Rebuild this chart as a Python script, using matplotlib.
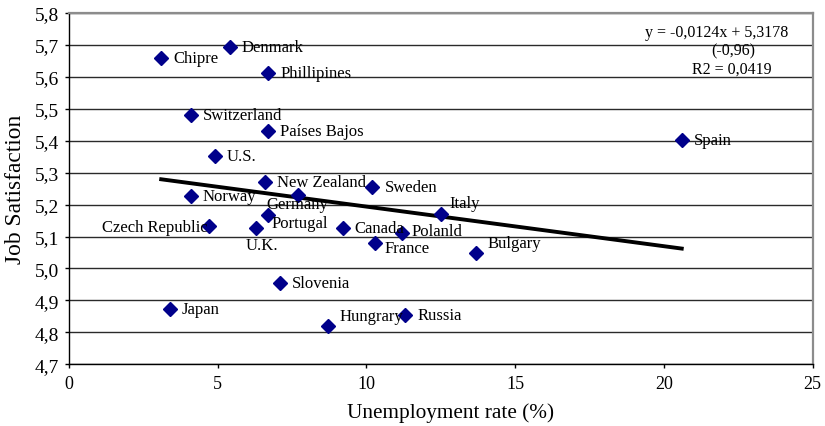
import matplotlib
matplotlib.use('Agg')
import matplotlib.pyplot as plt
from matplotlib.ticker import FuncFormatter, MultipleLocator

countries = ['Chipre', 'Denmark', 'Phillipines', 'Switzerland', 'Países Bajos', 'U.S.',
             'New Zealand', 'Sweden', 'Norway', 'Germany', 'Portugal', 'Czech Republic',
             'U.K.', 'Canada', 'Polanld', 'France', 'Italy', 'Bulgary', 'Slovenia',
             'Japan', 'Hungrary', 'Russia', 'Spain']
unemployment = [3.1, 5.4, 6.7, 4.1, 6.7, 4.9, 6.6, 10.2, 4.1, 7.7, 6.7, 4.7,
                6.3, 9.2, 11.2, 10.3, 12.5, 13.7, 7.1, 3.4, 8.7, 11.3, 20.6]
satisfaction = [5.658, 5.693, 5.612, 5.481, 5.430, 5.351, 5.272, 5.254, 5.226, 5.230,
                5.169, 5.132, 5.126, 5.126, 5.111, 5.081, 5.172, 5.047, 4.954, 4.873,
                4.820, 4.853, 5.402]
slope, intercept = -0.0124, 5.3178

# label offsets in pixels (dx, dy, ha)
offsets = {
    'Germany': (-32, -9, 'left'),
    'Portugal': (3, -8, 'left'),
    'Czech Republic': (-1, -1, 'right'),
    'U.K.': (6, -17, 'center'),
    'Polanld': (9, 2, 'left'),
    'France': (9, -5, 'left'),
    'Italy': (9, 11, 'left'),
    'Bulgary': (11, 10, 'left'),
    'Hungrary': (12, 10, 'left'),
}

plt.rcParams['font.family'] = ['Liberation Serif', 'DejaVu Serif']

fig = plt.figure(figsize=(8.25, 4.27), dpi=100)
ax = fig.add_axes([0.0836, 0.1445, 0.9014, 0.8227])

ax.set_xlim(0, 25)
ax.set_ylim(4.7, 5.8)
ax.yaxis.set_major_locator(MultipleLocator(0.1))
ax.xaxis.set_major_locator(MultipleLocator(5))
ax.yaxis.set_major_formatter(FuncFormatter(lambda v, p: f'{v:.1f}'.replace('.', ',')))
ax.xaxis.set_major_formatter(FuncFormatter(lambda v, p: f'{v:.0f}'))
ax.grid(axis='y', color='#2a2a2a', lw=1.0)
ax.set_axisbelow(True)

for s in ['top', 'right']:
    ax.spines[s].set_color('#8c8c8c')
    ax.spines[s].set_linewidth(1.6)
for s in ['left', 'bottom']:
    ax.spines[s].set_color('black')
    ax.spines[s].set_linewidth(1.0)
ax.tick_params(axis='both', direction='out', length=3, width=1)
ax.tick_params(axis='y', labelsize=14, pad=4)
ax.tick_params(axis='x', labelsize=13, pad=5)

xs = [min(unemployment), max(unemployment)]
ax.plot(xs, [slope * x + intercept for x in xs], color='black', lw=2.8, zorder=3)

ax.plot(unemployment, satisfaction, 'D', color='#00008b', markersize=7.5, zorder=4, ls='none')

for name, x, y in zip(countries, unemployment, satisfaction):
    dx, dy, ha = offsets.get(name, (12, 0, 'left'))
    ax.annotate(name, (x, y), xytext=(dx, dy), textcoords='offset pixels',
                ha=ha, va='center', fontsize=12, zorder=5)

ax.text(788 / 825, 1 - 33 / 427, 'y = -0,0124x + 5,3178', transform=fig.transFigure,
        ha='right', va='center', fontsize=11.5)
ax.text(733 / 825, 1 - 51 / 427, '(-0,96)', transform=fig.transFigure,
        ha='center', va='center', fontsize=11.5)
ax.text(732 / 825, 1 - 70 / 427, 'R2 = 0,0419', transform=fig.transFigure,
        ha='center', va='center', fontsize=11.5)

ax.set_xlabel('Unemployment rate (%)', fontsize=15.3, va='center')
ax.xaxis.set_label_coords((451 - 69) / 743.7, -47.5 / 351.3)
ax.set_ylabel('Job Satisfaction', fontsize=16.8, va='center')
ax.yaxis.set_label_coords(-53 / 743.7, 0.5)

fig.savefig('out.png', dpi=100)
